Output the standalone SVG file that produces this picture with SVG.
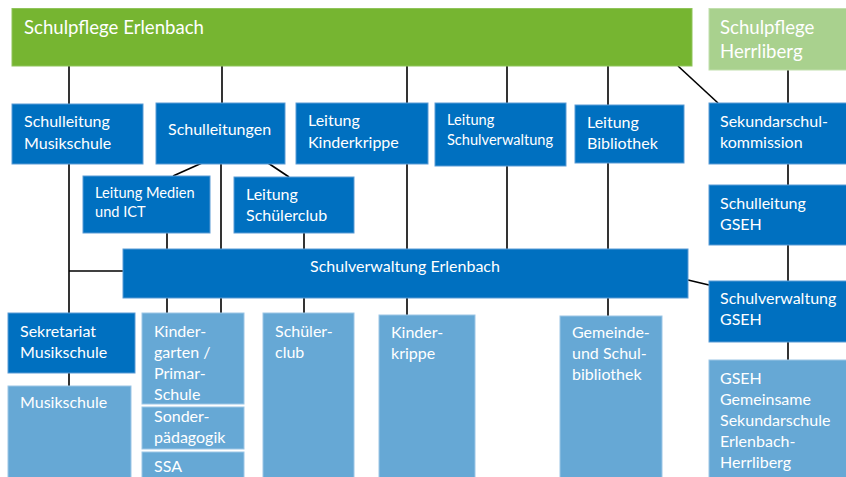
<svg xmlns="http://www.w3.org/2000/svg" width="846" height="477" viewBox="0 0 846 477">
<style>
.dk{fill:#0070c0;stroke:#5b9bd5;stroke-width:1}
.lt{fill:#66a8d5;stroke:#9cc6e6;stroke-width:1}
.gr{fill:#76b531;stroke:#8fc45a;stroke-width:1}
.lg{fill:#a9d18e;stroke:#c1dfad;stroke-width:1}
text{font-family:Lato,"Open Sans","Liberation Sans",sans-serif;fill:#ffffff;font-size:16px}
.big{font-size:18.6px}
.sm{font-size:14.6px}
.con line{stroke:#000000;stroke-width:1.6}
</style>
<g class="con" id="connectors">
<line x1="69" y1="66" x2="69" y2="104"/>
<line x1="222" y1="66" x2="222" y2="103"/>
<line x1="407" y1="66" x2="407" y2="103"/>
<line x1="507" y1="66" x2="507" y2="103"/>
<line x1="608" y1="66" x2="608" y2="105"/>
<line x1="678" y1="66" x2="718" y2="103"/>
<line x1="788" y1="70" x2="788" y2="103"/>
<line x1="202" y1="163" x2="173" y2="176"/>
<line x1="268" y1="163" x2="289" y2="177"/>
<line x1="788" y1="164" x2="788" y2="185"/>
<line x1="69" y1="164" x2="69" y2="313"/>
<line x1="69" y1="271" x2="123" y2="271"/>
<line x1="167" y1="233" x2="167" y2="249"/>
<line x1="167" y1="298" x2="167" y2="313"/>
<line x1="221" y1="164" x2="221" y2="249"/>
<line x1="221" y1="298" x2="221" y2="313"/>
<line x1="304" y1="233" x2="304" y2="249"/>
<line x1="304" y1="298" x2="304" y2="313"/>
<line x1="407" y1="164" x2="407" y2="249"/>
<line x1="407" y1="298" x2="407" y2="315"/>
<line x1="507" y1="166" x2="507" y2="249"/>
<line x1="608" y1="163" x2="608" y2="249"/>
<line x1="608" y1="298" x2="608" y2="316"/>
<line x1="688" y1="280" x2="709" y2="285"/>
<line x1="788" y1="245" x2="788" y2="281"/>
<line x1="788" y1="342" x2="788" y2="360"/>
<line x1="69" y1="373" x2="69" y2="386"/>
</g>
<g id="schulpflege-erlenbach"><rect class="gr" x="12" y="8.5" width="680" height="57.5"/><text class="big" x="24" y="34">Schulpflege Erlenbach</text></g>
<g id="schulpflege-herrliberg"><rect class="lg" x="709" y="8.5" width="140" height="61.5"/><text class="big" x="720" y="34">Schulpflege</text><text class="big" x="720" y="58">Herrliberg</text></g>
<g id="schulleitung-musikschule"><rect class="dk" x="12" y="104" width="131" height="60"/><text x="24" y="127">Schulleitung</text><text x="24" y="149">Musikschule</text></g>
<g id="schulleitungen"><rect class="dk" x="156" y="103" width="129" height="61"/><text x="168" y="135">Schulleitungen</text></g>
<g id="leitung-kinderkrippe"><rect class="dk" x="296" y="103" width="132" height="61"/><text x="308" y="126">Leitung</text><text x="308" y="148">Kinderkrippe</text></g>
<g id="leitung-schulverwaltung"><rect class="dk" x="435" y="103" width="131" height="63"/><text class="sm" x="447" y="125">Leitung</text><text class="sm" x="447" y="145">Schulverwaltung</text></g>
<g id="leitung-bibliothek"><rect class="dk" x="575" y="105" width="109" height="58"/><text x="587" y="128">Leitung</text><text x="587" y="149">Bibliothek</text></g>
<g id="sekundarschulkommission"><rect class="dk" x="709" y="103" width="140" height="61"/><text x="720" y="127">Sekundarschul-</text><text x="720" y="148">kommission</text></g>
<g id="leitung-medien-ict"><rect class="dk" x="83" y="176" width="127" height="57"/><text class="sm" x="95" y="198">Leitung Medien</text><text class="sm" x="95" y="217">und ICT</text></g>
<g id="leitung-schuelerclub"><rect class="dk" x="234" y="177" width="120" height="56"/><text x="246" y="200">Leitung</text><text x="246" y="221">Schülerclub</text></g>
<g id="schulleitung-gseh"><rect class="dk" x="709" y="185" width="140" height="60"/><text x="720" y="209">Schulleitung</text><text x="720" y="230">GSEH</text></g>
<g id="schulverwaltung-erlenbach"><rect class="dk" x="123" y="249" width="565" height="49"/><text x="405" y="272" text-anchor="middle">Schulverwaltung Erlenbach</text></g>
<g id="schulverwaltung-gseh"><rect class="dk" x="709" y="281" width="140" height="61"/><text x="720" y="304">Schulverwaltung</text><text x="720" y="325">GSEH</text></g>
<g id="sekretariat-musikschule"><rect class="dk" x="8" y="313" width="127" height="60"/><text x="20" y="337">Sekretariat</text><text x="20" y="358">Musikschule</text></g>
<g id="musikschule"><rect class="lt" x="8" y="386" width="123" height="95"/><text x="20" y="408">Musikschule</text></g>
<g id="kindergarten-primarschule"><rect class="lt" x="142" y="313" width="102" height="91"/><text x="154" y="337">Kinder-</text><text x="154" y="358">garten /</text><text x="154" y="379">Primar-</text><text x="154" y="400">Schule</text></g>
<g id="sonderpaedagogik"><rect class="lt" x="142" y="407" width="102" height="42"/><text x="154" y="422">Sonder-</text><text x="154" y="443">pädagogik</text></g>
<g id="ssa"><rect class="lt" x="142" y="452" width="102" height="29"/><text x="154" y="472">SSA</text></g>
<g id="schuelerclub"><rect class="lt" x="263" y="313" width="91" height="168"/><text x="275" y="337">Schüler-</text><text x="275" y="358">club</text></g>
<g id="kinderkrippe"><rect class="lt" x="379" y="315" width="96" height="166"/><text x="391" y="338">Kinder-</text><text x="391" y="359">krippe</text></g>
<g id="bibliothek"><rect class="lt" x="560" y="316" width="102" height="165"/><text x="572" y="338">Gemeinde-</text><text x="572" y="359">und Schul-</text><text x="572" y="380">bibliothek</text></g>
<g id="gseh"><rect class="lt" x="709" y="360" width="140" height="121"/><text x="720" y="384">GSEH</text><text x="720" y="405">Gemeinsame</text><text x="720" y="426">Sekundarschule</text><text x="720" y="447">Erlenbach-</text><text x="720" y="468">Herrliberg</text></g>
</svg>
